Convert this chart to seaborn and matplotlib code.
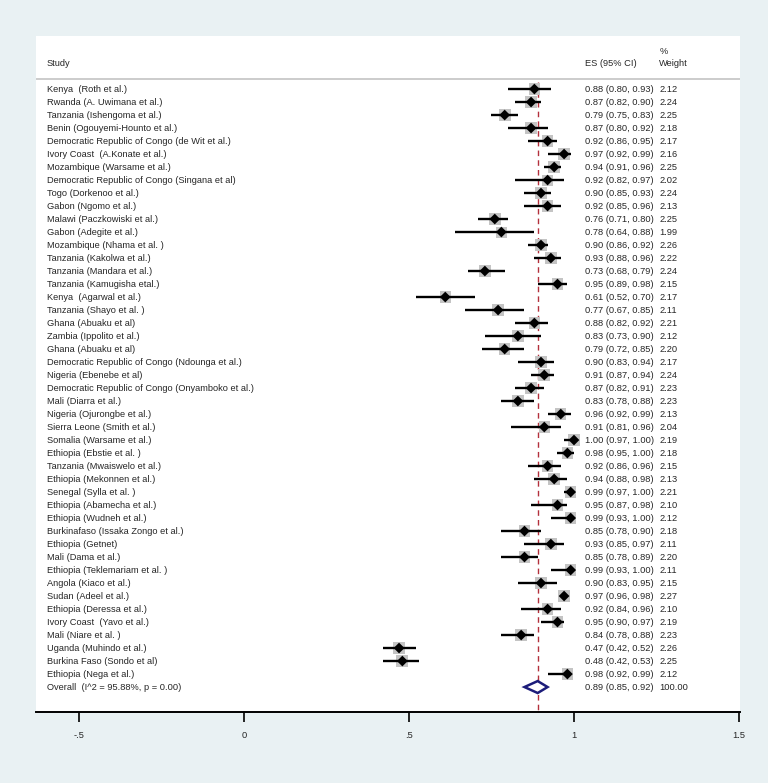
import numpy as np
import pandas as pd
import matplotlib
matplotlib.use("Agg")
import matplotlib.pyplot as plt
import seaborn as sns

# --- data ---
studies = [
    "Kenya  (Roth et al.)", "Rwanda (A. Uwimana et al.)", "Tanzania (Ishengoma et al.)",
    "Benin (Ogouyemi-Hounto et al.)", "Democratic Republic of Congo (de Wit et al.)",
    "Ivory Coast  (A.Konate et al.)", "Mozambique (Warsame et al.)",
    "Democratic Republic of Congo (Singana et al)", "Togo (Dorkenoo et al.)",
    "Gabon (Ngomo et al.)", "Malawi (Paczkowiski et al.)", "Gabon (Adegite et al.)",
    "Mozambique (Nhama et al. )", "Tanzania (Kakolwa et al.)", "Tanzania (Mandara et al.)",
    "Tanzania (Kamugisha etal.)", "Kenya  (Agarwal et al.)", "Tanzania (Shayo et al. )",
    "Ghana (Abuaku et al)", "Zambia (Ippolito et al.)", "Ghana (Abuaku et al)",
    "Democratic Republic of Congo (Ndounga et al.)", "Nigeria (Ebenebe et al)",
    "Democratic Republic of Congo (Onyamboko et al.)", "Mali (Diarra et al.)",
    "Nigeria (Ojurongbe et al.)", "Sierra Leone (Smith et al.)", "Somalia (Warsame et al.)",
    "Ethiopia (Ebstie et al. )", "Tanzania (Mwaiswelo et al.)", "Ethiopia (Mekonnen et al.)",
    "Senegal (Sylla et al. )", "Ethiopia (Abamecha et al.)", "Ethiopia (Wudneh et al.)",
    "Burkinafaso (Issaka Zongo et al.)", "Ethiopia (Getnet)", "Mali (Dama et al.)",
    "Ethiopia (Teklemariam et al. )", "Angola (Kiaco et al.)", "Sudan (Adeel et al.)",
    "Ethiopia (Deressa et al.)", "Ivory Coast  (Yavo et al.)", "Mali (Niare et al. )",
    "Uganda (Muhindo et al.)", "Burkina Faso (Sondo et al)", "Ethiopia (Nega et al.)",
]
es = [0.88, 0.87, 0.79, 0.87, 0.92, 0.97, 0.94, 0.92, 0.90, 0.92, 0.76, 0.78, 0.90, 0.93,
      0.73, 0.95, 0.61, 0.77, 0.88, 0.83, 0.79, 0.90, 0.91, 0.87, 0.83, 0.96, 0.91, 1.00,
      0.98, 0.92, 0.94, 0.99, 0.95, 0.99, 0.85, 0.93, 0.85, 0.99, 0.90, 0.97, 0.92, 0.95,
      0.84, 0.47, 0.48, 0.98]
lo = [0.80, 0.82, 0.75, 0.80, 0.86, 0.92, 0.91, 0.82, 0.85, 0.85, 0.71, 0.64, 0.86, 0.88,
      0.68, 0.89, 0.52, 0.67, 0.82, 0.73, 0.72, 0.83, 0.87, 0.82, 0.78, 0.92, 0.81, 0.97,
      0.95, 0.86, 0.88, 0.97, 0.87, 0.93, 0.78, 0.85, 0.78, 0.93, 0.83, 0.96, 0.84, 0.90,
      0.78, 0.42, 0.42, 0.92]
hi = [0.93, 0.90, 0.83, 0.92, 0.95, 0.99, 0.96, 0.97, 0.93, 0.96, 0.80, 0.88, 0.92, 0.96,
      0.79, 0.98, 0.70, 0.85, 0.92, 0.90, 0.85, 0.94, 0.94, 0.91, 0.88, 0.99, 0.96, 1.00,
      1.00, 0.96, 0.98, 1.00, 0.98, 1.00, 0.90, 0.97, 0.89, 1.00, 0.95, 0.98, 0.96, 0.97,
      0.88, 0.52, 0.53, 0.99]
weight = [2.12, 2.24, 2.25, 2.18, 2.17, 2.16, 2.25, 2.02, 2.24, 2.13, 2.25, 1.99, 2.26, 2.22,
          2.24, 2.15, 2.17, 2.11, 2.21, 2.12, 2.20, 2.17, 2.24, 2.23, 2.23, 2.13, 2.04, 2.19,
          2.18, 2.15, 2.13, 2.21, 2.10, 2.12, 2.18, 2.11, 2.20, 2.11, 2.15, 2.27, 2.10, 2.19,
          2.23, 2.26, 2.25, 2.12]
overall_label = "Overall  (I^2 = 95.88%, p = 0.00)"
overall_es, overall_lo, overall_hi, overall_w = 0.89, 0.85, 0.92, 100.00
x_ticks = [-0.5, 0, 0.5, 1, 1.5]
x_ticklabels = ["-.5", "0", ".5", "1", "1.5"]

df = pd.DataFrame({"study": studies, "es": es, "lo": lo, "hi": hi, "weight": weight})
df["row"] = np.arange(len(df))
n = len(df)

# --- style ---
sns.set_style("white")
FONT = ["Liberation Sans Narrow", "Liberation Sans", "DejaVu Sans"]
plt.rcParams["font.family"] = FONT
BG = "#e9f1f3"
FS = 6.7

fig = plt.figure(figsize=(7.68, 7.83), dpi=100, facecolor=BG)
ax = fig.add_axes([36 / 768, 71 / 783, 704 / 768, 676 / 783])
ax.set_facecolor("white")
ax.set_xlim(-0.63, 1.503)
ax.set_ylim(n + 1.92, -4.08)

# reference line at the pooled estimate
ax.vlines(overall_es, -0.55, n + 1.92, colors="#b3303c", linestyles=(0, (4, 3)),
          linewidth=1.0, zorder=1)

# weight boxes
sns.scatterplot(data=df, x="es", y="row", size="weight", sizes=(62, 72), marker="s",
                color="#c4c4c4", edgecolor="none", legend=False, ax=ax, zorder=2)
# confidence intervals
ax.hlines(df["row"], df["lo"], df["hi"], colors="black", linewidth=1.7, zorder=3)
# point estimates
sns.scatterplot(data=df, x="es", y="row", marker="D", s=30, color="black",
                edgecolor="none", legend=False, ax=ax, zorder=4)

# overall diamond
r = n
ax.fill([overall_lo, overall_es, overall_hi, overall_es, overall_lo],
        [r, r - 0.46, r, r + 0.46, r], facecolor="white", edgecolor="#1c1c7a",
        linewidth=1.8, zorder=5)

# text columns
x_lab, x_es, x_w = -0.597, 1.033, 1.258
for _, row in df.iterrows():
    ax.text(x_lab, row["row"], row["study"], fontsize=FS, va="center", ha="left")
    ax.text(x_es, row["row"], f"{row['es']:.2f} ({row['lo']:.2f}, {row['hi']:.2f})",
            fontsize=FS, va="center", ha="left")
    ax.text(x_w, row["row"], f"{row['weight']:.2f}", fontsize=FS, va="center", ha="left")
ax.text(x_lab, r, overall_label, fontsize=FS, va="center", ha="left")
ax.text(x_es, r, f"{overall_es:.2f} ({overall_lo:.2f}, {overall_hi:.2f})",
        fontsize=FS, va="center", ha="left")
ax.text(x_w, r, f"{overall_w:.2f}", fontsize=FS, va="center", ha="left")

# header
ax.text(x_lab, -2.0, "Study", fontsize=FS, va="center", ha="left")
ax.text(x_es, -2.0, "ES (95% CI)", fontsize=FS, va="center", ha="left")
ax.text(x_w, -2.0, "Weight", fontsize=FS, va="center", ha="left")
ax.text(x_w, -2.92, "%", fontsize=FS, va="center", ha="left")
ax.axhline(-0.77, color="#c8c8c8", linewidth=1.3)

# axis
for s in ["top", "right", "left"]:
    ax.spines[s].set_visible(False)
ax.spines["bottom"].set_linewidth(1.4)
ax.spines["bottom"].set_color("black")
ax.set_yticks([])
ax.set_xticks(x_ticks)
ax.set_xticklabels(x_ticklabels, fontsize=FS)
ax.tick_params(axis="x", direction="out", length=7.5, width=1.2, color="black", pad=6,
               bottom=True)
ax.set_xlabel("")
ax.set_ylabel("")

fig.savefig("out.png", dpi=100, facecolor=BG)
